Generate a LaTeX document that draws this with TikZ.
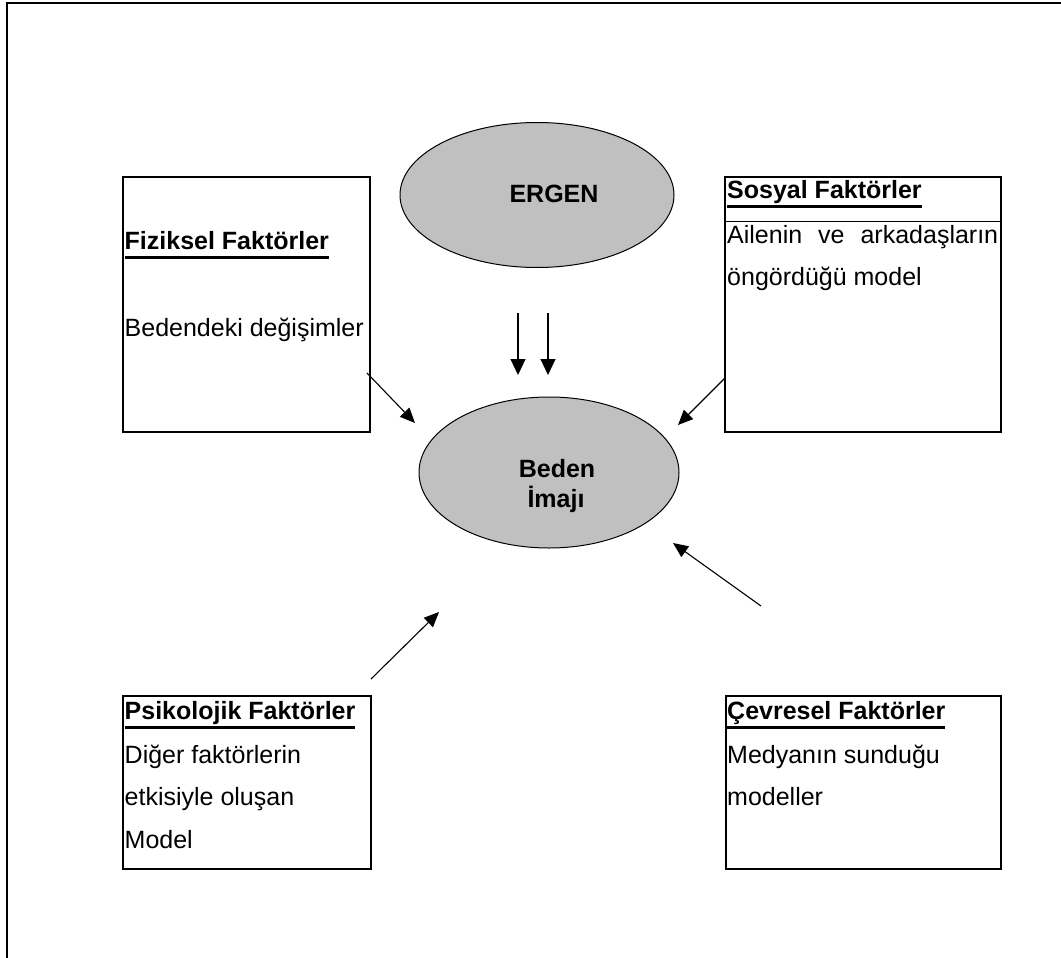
\documentclass[tikz,border=0pt]{standalone}
\usepackage{fontspec}
\setmainfont{Liberation Sans}
\usetikzlibrary{arrows.meta,shapes.geometric}

\definecolor{ovalgri}{RGB}{192,192,192}
\newsavebox{\baslikkutu}
\newcommand{\ulbaslik}[1]{\sbox\baslikkutu{#1}\rlap{\rule[-9.5pt]{\wd\baslikkutu}{2.5pt}}\usebox\baslikkutu}

\begin{document}
\begin{tikzpicture}[x=1pt,y=-1pt,
    kutu/.style={draw, line width=1.3pt, rectangle, inner sep=0pt},
    oval/.style={draw, line width=1pt, ellipse, fill=ovalgri, inner sep=0pt},
    yazi/.style={anchor=base west, inner sep=0pt, font=\fontsize{25}{30}\selectfont},
    kalin/.style={yazi, font=\fontsize{25}{30}\selectfont\bfseries},
    ok/.style={-{Triangle[length=15pt,width=13pt]}, line width=1.1pt}]
    \useasboundingbox (0,0) rectangle (1061,958);

    % Cerceve
    \draw[line width=1.2pt] (1061,3) -- (7,3) -- (7,958);

    % Kutular
    \node[kutu, minimum width=247pt, minimum height=255pt] (fiz) at (246.5,304.5) {};
    \node[kutu, minimum width=276pt, minimum height=255pt] (sos) at (863,304.5) {};
    \node[kutu, minimum width=248pt, minimum height=173pt] (psi) at (247,782.5) {};
    \node[kutu, minimum width=275pt, minimum height=173pt] (cev) at (863.5,782.5) {};
    \draw[line width=0.8pt] (sos.west |- 0,221) -- (sos.east |- 0,221); % tablo cizgisi

    % Ovaller
    \node[oval, minimum width=274pt, minimum height=145pt] (ergen) at (537,195) {};
    \node[kalin, anchor=center] (ergenyazi) at (554,194) {ERGEN};
    \node[oval, minimum width=260pt, minimum height=151pt] (beden) at (549,472.5) {};
    \node[kalin, anchor=base] (beden1) at (557,477) {Beden};
    \node[kalin, anchor=base] (beden2) at (556,507) {İmajı};

    % Yazilar
    \node[kalin] (fizbas) at (124.5,249) {\ulbaslik{Fiziksel Faktörler}};
    \node[yazi] (fiz1) at (124.5,336) {Bedendeki değişimler};

    \node[kalin] (sosbas) at (727,198) {\ulbaslik{Sosyal Faktörler}};
    \node[yazi] (sos1) at (727,243) {\makebox[271pt][s]{Ailenin ve arkadaşların}};
    \node[yazi] (sos2) at (727,285) {öngördüğü model};

    \node[kalin] (psibas) at (124.5,719) {\ulbaslik{Psikolojik Faktörler}};
    \node[yazi] (psi1) at (124.5,763) {Diğer faktörlerin};
    \node[yazi] (psi2) at (124.5,805) {etkisiyle oluşan};
    \node[yazi] (psi3) at (124.5,848) {Model};

    \node[kalin] (cevbas) at (727,719) {\ulbaslik{Çevresel Faktörler}};
    \node[yazi] (cev1) at (727,763) {Medyanın sunduğu};
    \node[yazi] (cev2) at (727,805) {modeller};

    % Oklar
    \coordinate (ergenA) at (518,313);
    \coordinate (ergenB) at (548,313);
    \coordinate (hedefA) at (518,375);
    \coordinate (hedefB) at (548,375);
    \coordinate (fizok) at (367,373);
    \coordinate (fizuc) at (415,423);
    \coordinate (sosok) at (725,378);
    \coordinate (sosuc) at (678,425);
    \coordinate (psiok) at (371,679);
    \coordinate (psiuc) at (439,612);
    \coordinate (cevok) at (761,606);
    \coordinate (cevuc) at (673,543);

    \draw[ok, -{Triangle[length=16pt,width=15pt]}] (ergenA) -- (hedefA);
    \draw[ok, -{Triangle[length=16pt,width=15pt]}] (ergenB) -- (hedefB);
    \draw[ok] (fizok) -- (fizuc);
    \draw[ok] (sosok) -- (sosuc);
    \draw[ok] (psiok) -- (psiuc);
    \draw[ok] (cevok) -- (cevuc);
\end{tikzpicture}
\end{document}
